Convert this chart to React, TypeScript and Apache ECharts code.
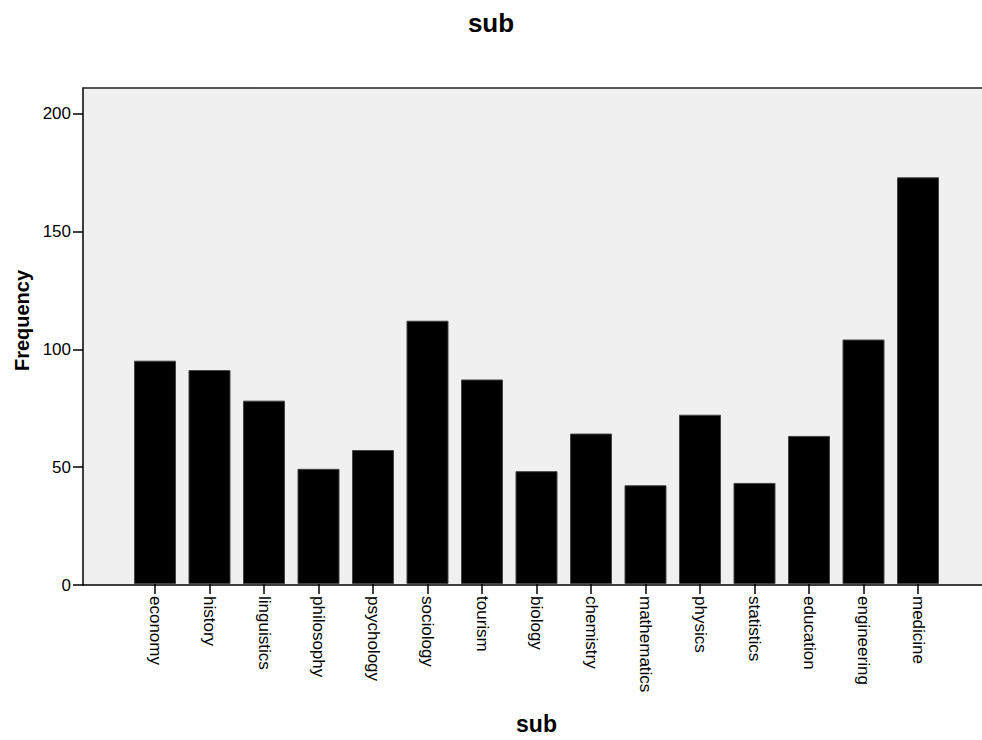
import React, { useEffect, useRef } from "react";
import * as echarts from "echarts";

const categories = [
  "economy", "history", "linguistics", "philosophy", "psychology",
  "sociology", "tourism", "biology", "chemistry", "mathematics",
  "physics", "statistics", "education", "engineering", "medicine",
];
const frequencies = [95, 91, 78, 49, 57, 112, 87, 48, 64, 42, 72, 43, 63, 104, 173];
const yTicks = [0, 50, 100, 150, 200];
const yMax = 211;

const FONT = "'Liberation Sans', Arial, Helvetica, sans-serif";

export default function App() {
  const ref = useRef<HTMLDivElement>(null);
  useEffect(() => {
    if (!ref.current) return;
    const chart = echarts.init(ref.current, undefined, { renderer: "svg" });
    chart.setOption({
      animation: false,
      backgroundColor: "#ffffff",
      textStyle: { fontFamily: FONT },
      title: {
        text: "sub",
        left: "center",
        top: 5,
        textStyle: { fontFamily: FONT, fontSize: 26, fontWeight: "bold", color: "#000" },
      },
      grid: [
        {
          left: 83, top: 88, width: 907, bottom: 155,
          show: true, backgroundColor: "#f0f0f0", borderWidth: 0,
          containLabel: false,
        },
        {
          left: 127.75, top: 88, width: 817.5, bottom: 155,
          containLabel: false,
        },
      ],
      xAxis: [
        {
          gridIndex: 0, type: "value", min: 0, max: 1, position: "bottom",
          axisLine: { show: true, lineStyle: { color: "#000", width: 1.5 } },
          axisTick: { show: false },
          axisLabel: { show: false }, splitLine: { show: false },
        },
        {
          gridIndex: 1, type: "category", data: categories, boundaryGap: true,
          axisLine: { show: false },
          axisTick: { show: true, alignWithLabel: true, length: 10, lineStyle: { color: "#000", width: 1.5 } },
          axisLabel: {
            rotate: -90, fontSize: 17, color: "#000", margin: 12, interval: 0, fontFamily: FONT,
          },
          name: "sub",
          nameLocation: "middle",
          nameGap: 128,
          nameTextStyle: { fontFamily: FONT, fontSize: 23, fontWeight: "bold", color: "#000" },
        },
        {
          gridIndex: 0, type: "value", min: 0, max: 1, position: "top",
          axisLine: { show: true, lineStyle: { color: "#222", width: 1.5 } },
          axisTick: { show: false },
          axisLabel: { show: false }, splitLine: { show: false },
        },
      ],
      yAxis: [
        {
          gridIndex: 0, type: "value", min: 0, max: yMax,
          axisLine: { show: true, lineStyle: { color: "#000", width: 1.5 } },
          axisTick: { show: true, length: 10, customValues: yTicks, lineStyle: { color: "#000", width: 1.5 } },
          axisLabel: { customValues: yTicks, fontSize: 17, color: "#000", margin: 12, fontFamily: FONT },
          splitLine: { show: false },
          name: "Frequency",
          nameLocation: "middle",
          nameGap: 50,
          nameTextStyle: {
            fontFamily: FONT, fontSize: 20, fontWeight: "bold", color: "#000",
            padding: [0, 0, 0, 32],
          },
        },
        {
          gridIndex: 1, type: "value", min: 0, max: yMax, show: false,
          splitLine: { show: false },
        },
      ],
      series: [
        {
          type: "bar",
          xAxisIndex: 1,
          yAxisIndex: 1,
          data: frequencies,
          barWidth: 42,
          itemStyle: { color: "#000", borderColor: "#444", borderWidth: 1 },
        },
      ],
    });
    return () => chart.dispose();
  }, []);
  return (
    <div
      ref={ref}
      style={{ position: "fixed", left: 0, top: 0, width: 982, height: 740 }}
    />
  );
}
